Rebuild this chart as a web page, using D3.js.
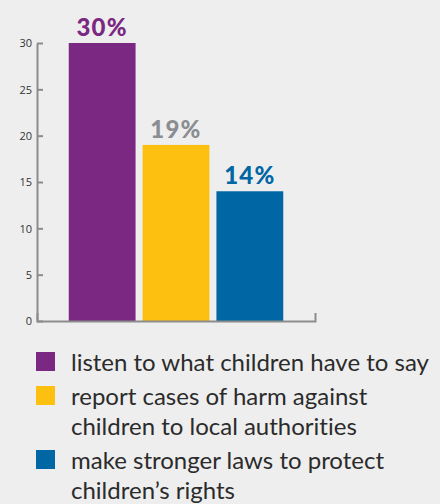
<!DOCTYPE html>
<html>
<head>
<meta charset="utf-8">
<script src="https://cdn.jsdelivr.net/npm/d3@7"></script>
<style>
  html, body { margin: 0; padding: 0; background: #eeeeee; }
  svg { display: block; }
  .yaxis text { font-family: "Open Sans", sans-serif; font-size: 11px; fill: #333; }
</style>
</head>
<body>
<script>
const categories = ["listen", "report", "laws"];
const values = [30, 19, 14];
const valueLabels = ["30%", "19%", "14%"];
const barColors = ["#7b2882", "#fdbf10", "#0066a4"];
const labelColors = ["#7b2882", "#8a8d91", "#0066a4"];
const legendLines = [
  ["listen to what children have to say"],
  ["report cases of harm against", "children to local authorities"],
  ["make stronger laws to protect", "children\u2019s rights"]
];
const yTicks = [0, 5, 10, 15, 20, 25, 30];

const width = 440, height = 504;

const svg = d3.select("body")
  .append("svg")
  .attr("width", width)
  .attr("height", height);

const xScale = d3.scaleBand(categories, [37, 315])
  .paddingInner(0.095)
  .paddingOuter(0.43);
const yScale = d3.scaleLinear([0, 30], [321, 43]);

// bars
svg.selectAll("rect.bar")
  .data(values)
  .join("rect")
  .attr("class", "bar")
  .attr("x", (d, i) => xScale(categories[i]))
  .attr("y", d => yScale(d))
  .attr("width", xScale.bandwidth())
  .attr("height", d => yScale(0) - yScale(d))
  .attr("fill", (d, i) => barColors[i]);

// value labels
svg.selectAll("text.vlabel")
  .data(values)
  .join("text")
  .attr("class", "vlabel")
  .attr("x", (d, i) => xScale(categories[i]) + xScale.bandwidth() / 2)
  .attr("y", d => yScale(d) - 7)
  .attr("text-anchor", "middle")
  .style("font-family", "Lato, sans-serif")
  .style("font-weight", "900")
  .style("font-size", "24px")
  .style("letter-spacing", "1.2px")
  .style("fill", (d, i) => labelColors[i])
  .text((d, i) => valueLabels[i]);

// y axis
const yAxis = d3.axisLeft(yScale)
  .tickValues(yTicks)
  .tickSizeInner(-6)
  .tickSizeOuter(0)
  .tickPadding(5);
const gy = svg.append("g")
  .attr("class", "yaxis")
  .attr("transform", "translate(37,0)")
  .call(yAxis);
gy.select(".domain").attr("stroke", "#8c8c8c").attr("stroke-width", 2);
gy.selectAll(".tick line").attr("stroke", "#8c8c8c").attr("stroke-width", 2);
gy.selectAll(".tick text").attr("dy", "0.35em");

// x axis
const xAxis = d3.axisBottom(xScale)
  .tickValues([])
  .tickSizeOuter(-8);
const gx = svg.append("g")
  .attr("transform", "translate(0,321)")
  .call(xAxis);
gx.select(".domain").attr("stroke", "#8c8c8c").attr("stroke-width", 2).attr("fill", "none");

// legend
const legendTop = [352, 386, 450];
const lineGap = 30;
const legend = svg.append("g");
legendLines.forEach((lines, i) => {
  const g = legend.append("g").attr("transform", `translate(0,${legendTop[i]})`);
  g.append("rect")
    .attr("x", 36)
    .attr("y", 0)
    .attr("width", 19)
    .attr("height", 19)
    .attr("fill", barColors[i]);
  const t = g.append("text")
    .attr("x", 71)
    .attr("y", 19)
    .style("font-family", "Lato, sans-serif")
    .style("font-size", "24px")
    .style("font-variant-ligatures", "none")
    .style("fill", "#2b2b2b");
  lines.forEach((line, j) => {
    t.append("tspan")
      .attr("x", 71)
      .attr("dy", j === 0 ? 0 : lineGap)
      .text(line);
  });
});
</script>
</body>
</html>
